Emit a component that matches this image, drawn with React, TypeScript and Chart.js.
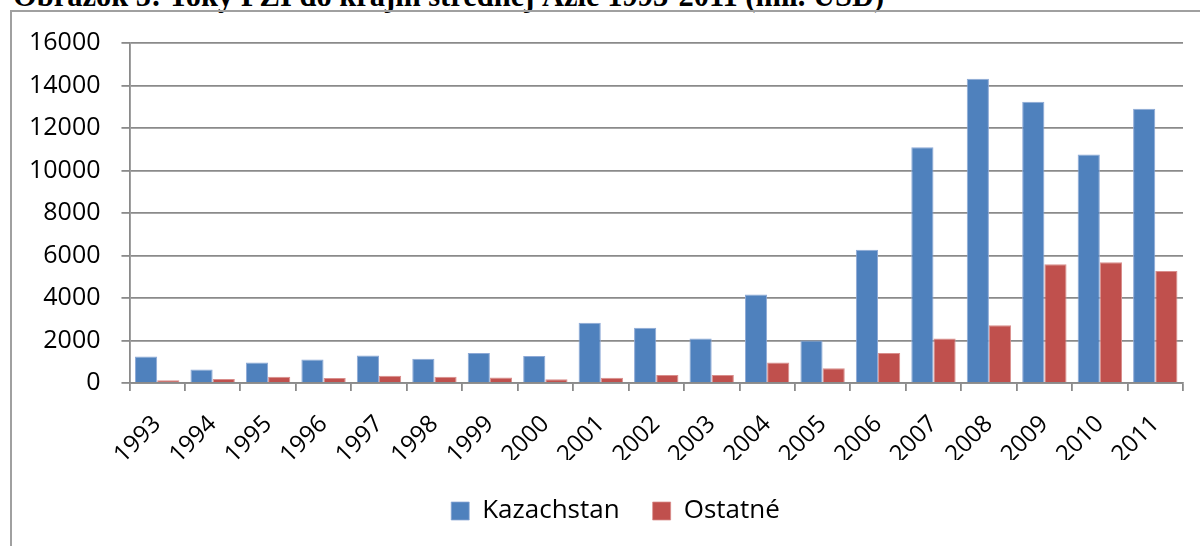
import React, { useEffect, useRef } from 'react';
import { Chart, registerables } from 'chart.js';

Chart.register(...registerables);

const years = ['1993', '1994', '1995', '1996', '1997', '1998', '1999', '2000', '2001', '2002', '2003', '2004', '2005', '2006', '2007', '2008', '2009', '2010', '2011'];
const kazachstan = [1250, 640, 960, 1110, 1300, 1140, 1410, 1270, 2830, 2600, 2100, 4160, 2000, 6270, 11100, 14320, 13240, 10750, 12910];
const ostatne = [130, 190, 290, 230, 340, 290, 260, 180, 250, 380, 380, 960, 690, 1410, 2100, 2720, 5590, 5680, 5270];
const seriesNames = ['Kazachstan', 'Ostatné'];
const yMin = 0;
const yMax = 16000;
const yStep = 2000;
const titleText = 'Obrázok 5: Toky PZI do krajín strednej Ázie 1993-2011 (mil. USD)';

const GRID = '#8a8a8a';

export default function App() {
  const ref = useRef<HTMLCanvasElement | null>(null);

  useEffect(() => {
    if (!ref.current) return;
    const legendShift = {
      id: 'legendShift',
      afterLayout(chart: any) {
        const l = chart.legend;
        if (l) {
          l.left += 20;
          l.right += 20;
        }
      },
    };
    const chart = new Chart(ref.current, {
      type: 'bar',
      data: {
        labels: years,
        datasets: [
          {
            label: seriesNames[0],
            data: kazachstan,
            backgroundColor: '#4F81BD',
            borderColor: '#8DA9D6',
            borderWidth: { top: 1, left: 1, right: 1, bottom: 0 },
            borderSkipped: 'start',
            categoryPercentage: 0.8,
            barPercentage: 1.0,
          },
          {
            label: seriesNames[1],
            data: ostatne,
            backgroundColor: '#C0504D',
            borderColor: '#D98E8C',
            borderWidth: { top: 1, left: 1, right: 1, bottom: 0 },
            borderSkipped: 'start',
            categoryPercentage: 0.8,
            barPercentage: 1.0,
          },
        ],
      },
      options: {
        animation: false,
        responsive: false,
        maintainAspectRatio: false,
        layout: { padding: { left: 8, right: 17, top: 43, bottom: 12 } },
        scales: {
          x: {
            afterFit: (scale: any) => {
              scale.height = 77;
              scale.paddingLeft = 0;
              scale.paddingRight = 0;
            },
            grid: {
              display: true,
              drawOnChartArea: false,
              drawTicks: true,
              tickLength: 8,
              color: GRID,
              lineWidth: 1.8,
              offset: true,
            },
            border: { display: true, color: GRID, width: 1.8 },
            ticks: {
              color: '#000',
              font: { family: 'Open Sans', size: 24 },
              maxRotation: 45,
              minRotation: 45,
              padding: 19,
              autoSkip: false,
            },
          },
          y: {
            min: yMin,
            max: yMax,
            ticks: {
              stepSize: yStep,
              color: '#000',
              font: { family: 'Open Sans', size: 25 },
              padding: 21,
              callback: (v: any) => String(v),
            },
            grid: {
              color: GRID,
              lineWidth: 1.8,
              tickLength: 8,
              drawTicks: true,
            },
            border: { display: true, color: GRID, width: 1.8 },
          },
        },
        plugins: {
          tooltip: { enabled: false },
          legend: {
            position: 'bottom',
            title: { display: true, text: '', font: { size: 1, lineHeight: 1 }, padding: { top: 4, bottom: 0 } },
            labels: {
              color: '#000',
              font: { family: 'Open Sans', size: 26 },
              boxWidth: 18,
              boxHeight: 18,
              padding: 33,
            },
          },
        },
      },
      plugins: [legendShift],
    });
    return () => chart.destroy();
  }, []);

  return (
    <div style={{ position: 'fixed', left: 0, top: 0, width: 1200, height: 546, overflow: 'hidden', background: '#fff' }}>
      <div
        style={{
          position: 'absolute',
          left: 13,
          top: -19,
          fontFamily: '"Liberation Serif", "Times New Roman", serif',
          fontWeight: 'bold',
          fontSize: 30.5,
          lineHeight: '30px',
          whiteSpace: 'nowrap',
          color: '#000',
        }}
      >
        {titleText}
      </div>
      <div
        style={{
          position: 'absolute',
          left: 10,
          top: 10,
          width: 1400,
          height: 800,
          border: '2px solid #a0a0a0',
          boxSizing: 'border-box',
        }}
      />
      <canvas ref={ref} width={1200} height={546} style={{ position: 'absolute', left: 0, top: 0, width: 1200, height: 546 }} />
    </div>
  );
}
